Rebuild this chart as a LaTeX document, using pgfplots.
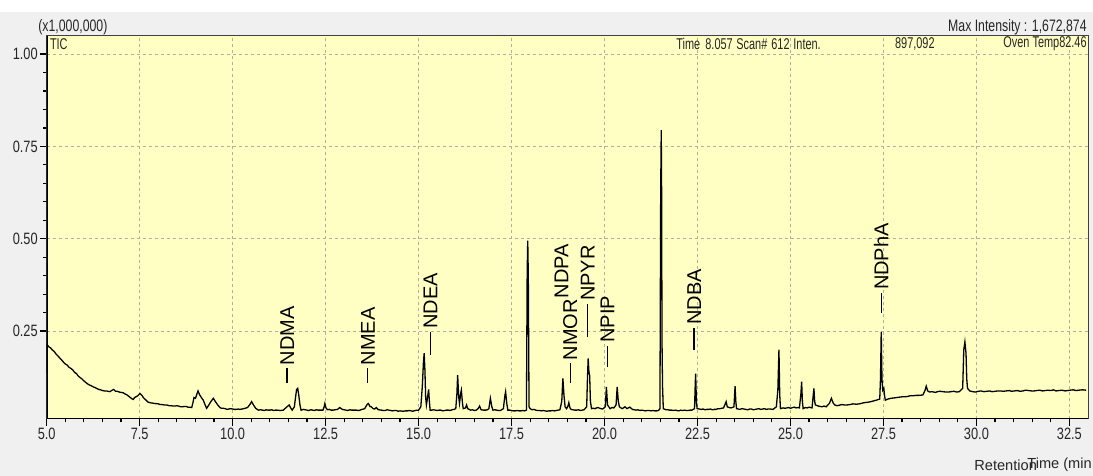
\documentclass[border=0pt]{standalone}
\usepackage{pgfplots}
\pgfplotsset{compat=1.18}
\usepackage{fontspec}
\setmainfont{Liberation Sans}
\newfontfamily\narrow{Liberation Sans}[FakeStretch=0.78]
\newfontfamily\narrowb{Liberation Sans}[FakeStretch=0.74]
\newfontfamily\narrowc{Liberation Sans}[FakeStretch=0.70]
\definecolor{bggray}{HTML}{F0F0F0}
\definecolor{plotbg}{HTML}{FFFFC4}
\definecolor{gridc}{HTML}{B0B0A0}
\newcommand{\pk}[4]{\node[rotate=90,anchor=west,inner sep=0pt,font=\fontsize{10}{12}\selectfont] at (axis cs:#1,#2) {\rule[3.2pt]{#3}{0.65pt}\hspace{1.5pt}#4};}
\begin{document}
\begin{tikzpicture}
\fill[bggray] (0,0) rectangle (546.5pt,238pt);
\fill[white] (0,232pt) rectangle (546.5pt,238pt);
\begin{axis}[
  at={(23.35pt,28.5pt)}, anchor=south west,
  scale only axis, width=520.65pt, height=191.5pt,
  xmin=5, xmax=33, ymin=0.012, ymax=1.049,
  axis background/.style={fill=plotbg},
  xtick={5,7.5,10,12.5,15,17.5,20,22.5,25,27.5,30,32.5},
  minor x tick num=4,
  ytick={0.25,0.5,0.75,1}, minor y tick num=4,
  xtick pos=left, ytick pos=left,
  grid=major,
  major grid style={gridc, dash pattern=on 1.5pt off 1.5pt, line width=0.5pt},
  tick align=outside, major tick length=3.3pt, minor tick length=1.7pt,
  tick style={black, line width=0.6pt},
  axis line style={draw=black!75, line width=0.5pt},
  /pgf/number format/assume math mode=true,
  xticklabel={\pgfmathprintnumber[fixed,fixed zerofill,precision=1]{\tick}},
  yticklabel={\pgfmathprintnumber[fixed,fixed zerofill,precision=2]{\tick}},
  tick label style={font=\narrow\fontsize{8.2}{9}\selectfont, text=black!85},
  xticklabel style={inner sep=1pt},
  yticklabel style={inner sep=1pt},
  clip=true,
]
\addplot[black, line width=0.65pt, sharp plot] coordinates {
(5.000,0.136)(5.003,0.217)(5.006,0.140)(5.010,0.212)(5.02,0.212)(5.06,0.207)(5.10,0.205)(5.15,0.199)(5.20,0.195)(5.25,0.188)(5.30,0.183)(5.36,0.176)(5.40,0.172)(5.45,0.166)
(5.50,0.161)(5.55,0.158)(5.60,0.152)(5.65,0.149)(5.71,0.144)(5.75,0.138)(5.80,0.135)(5.85,0.128)(5.90,0.124)(5.94,0.121)(5.98,0.117)(6.05,0.111)(6.10,0.107)(6.15,0.104)(6.20,0.102)(6.25,0.099)(6.30,0.097)(6.34,0.095)
(6.40,0.092)(6.45,0.091)(6.50,0.089)(6.55,0.088)(6.60,0.088)(6.65,0.087)(6.70,0.086)(6.76,0.090)(6.80,0.092)(6.85,0.087)(6.90,0.087)(6.95,0.085)(7.00,0.084)(7.06,0.083)(7.10,0.080)(7.15,0.078)
(7.20,0.074)(7.25,0.070)(7.30,0.066)(7.33,0.065)(7.36,0.070)(7.40,0.072)(7.45,0.075)(7.51,0.081)(7.56,0.076)(7.60,0.070)(7.65,0.065)(7.72,0.058)(7.78,0.056)(7.85,0.055)(7.90,0.054)
(8.00,0.053)(8.05,0.051)(8.10,0.051)(8.17,0.050)(8.23,0.050)(8.30,0.048)(8.35,0.048)(8.40,0.047)(8.45,0.047)(8.50,0.048)(8.55,0.047)(8.60,0.045)(8.65,0.045)(8.70,0.046)(8.75,0.046)(8.80,0.044)(8.85,0.044)(8.90,0.043)
(8.93,0.055)(8.96,0.070)(9.00,0.068)(9.04,0.080)(9.07,0.088)(9.11,0.078)(9.16,0.070)(9.21,0.063)(9.26,0.050)(9.30,0.041)
(9.36,0.050)(9.42,0.060)(9.48,0.068)(9.53,0.060)(9.60,0.050)(9.66,0.043)(9.70,0.041)(9.75,0.041)(9.80,0.040)(9.85,0.038)(9.90,0.039)(9.95,0.040)(10.00,0.039)
(10.05,0.038)(10.10,0.038)(10.15,0.039)(10.19,0.038)(10.25,0.039)(10.30,0.040)(10.40,0.043)(10.47,0.052)(10.51,0.059)(10.56,0.050)(10.62,0.041)(10.69,0.036)(10.75,0.037)(10.80,0.036)
(10.85,0.035)(10.90,0.037)(10.95,0.036)(11.00,0.036)(11.05,0.037)(11.10,0.035)(11.15,0.036)(11.20,0.036)(11.28,0.035)(11.36,0.036)(11.45,0.044)(11.52,0.050)(11.56,0.042)(11.60,0.036)(11.66,0.045)
(11.69,0.070)(11.72,0.092)(11.75,0.095)(11.78,0.075)(11.81,0.050)(11.84,0.036)(11.90,0.038)(11.95,0.037)(12.00,0.036)(12.05,0.035)(12.10,0.037)(12.15,0.036)(12.20,0.035)(12.25,0.037)(12.30,0.036)
(12.35,0.036)(12.43,0.036)(12.46,0.045)(12.48,0.054)(12.51,0.042)(12.55,0.037)(12.60,0.038)(12.65,0.036)(12.70,0.036)(12.75,0.037)(12.82,0.038)(12.88,0.043)(12.95,0.038)(13.00,0.037)
(13.05,0.036)(13.10,0.035)(13.15,0.037)(13.20,0.036)(13.25,0.036)(13.33,0.036)(13.40,0.035)(13.45,0.037)(13.55,0.040)(13.62,0.052)(13.65,0.054)(13.69,0.046)(13.73,0.045)
(13.78,0.040)(13.82,0.039)(13.86,0.043)(13.92,0.037)(14.00,0.036)(14.05,0.035)(14.10,0.035)(14.15,0.037)(14.20,0.036)(14.25,0.035)(14.30,0.034)(14.35,0.035)(14.40,0.035)(14.45,0.033)(14.50,0.034)(14.58,0.033)
(14.65,0.034)(14.70,0.034)(14.75,0.035)(14.80,0.034)(14.85,0.033)(14.90,0.035)(15.00,0.036)(15.06,0.045)(15.10,0.100)(15.13,0.165)(15.15,0.190)(15.17,0.145)(15.19,0.070)
(15.21,0.050)(15.24,0.070)(15.27,0.092)(15.29,0.060)(15.31,0.036)(15.35,0.036)(15.40,0.037)(15.45,0.036)(15.50,0.035)(15.55,0.036)(15.60,0.036)(15.65,0.034)(15.70,0.035)(15.75,0.036)(15.80,0.036)
(15.85,0.035)(15.90,0.037)(15.95,0.038)(16.00,0.040)(16.03,0.080)(16.05,0.131)(16.08,0.070)(16.10,0.054)(16.13,0.080)(16.15,0.090)(16.18,0.055)(16.20,0.040)
(16.26,0.042)(16.29,0.050)(16.32,0.040)(16.40,0.036)(16.45,0.037)(16.50,0.035)(16.55,0.036)(16.60,0.040)(16.64,0.047)(16.68,0.037)(16.75,0.036)(16.80,0.036)(16.85,0.037)(16.89,0.040)
(16.93,0.068)(16.97,0.045)(17.00,0.036)(17.05,0.037)(17.10,0.036)(17.15,0.035)(17.20,0.035)(17.28,0.040)(17.32,0.075)(17.34,0.086)(17.37,0.055)(17.40,0.036)
(17.45,0.036)(17.50,0.035)(17.55,0.034)(17.60,0.034)(17.65,0.035)(17.70,0.034)(17.75,0.034)(17.80,0.035)(17.85,0.034)(17.90,0.036)(17.92,0.410)(17.935,0.495)(17.95,0.400)(17.97,0.045)(18.00,0.040)
(18.05,0.037)(18.10,0.038)(18.15,0.036)(18.20,0.035)(18.25,0.035)(18.30,0.034)(18.35,0.035)(18.40,0.034)(18.45,0.033)(18.50,0.034)(18.55,0.034)(18.60,0.035)(18.65,0.034)(18.70,0.035)(18.75,0.036)(18.80,0.037)(18.85,0.060)
(18.88,0.122)(18.91,0.075)(18.94,0.045)(18.98,0.040)(19.02,0.048)(19.04,0.056)(19.07,0.042)(19.10,0.038)(19.15,0.037)(19.20,0.036)(19.25,0.036)(19.30,0.037)(19.35,0.035)(19.40,0.036)
(19.45,0.037)(19.52,0.045)(19.54,0.120)(19.56,0.176)(19.58,0.140)(19.60,0.130)(19.62,0.060)(19.65,0.040)(19.70,0.041)(19.75,0.040)(19.80,0.043)(19.85,0.042)(19.90,0.040)
(19.95,0.039)(20.02,0.045)(20.05,0.099)(20.08,0.050)(20.15,0.040)(20.20,0.043)(20.25,0.042)(20.31,0.050)(20.34,0.099)(20.37,0.060)(20.40,0.045)
(20.44,0.042)(20.48,0.040)(20.55,0.045)(20.60,0.040)(20.68,0.044)(20.75,0.038)(20.80,0.037)(20.85,0.036)(20.90,0.037)(20.95,0.035)(21.00,0.036)(21.05,0.035)(21.10,0.034)(21.15,0.035)(21.20,0.035)(21.25,0.034)
(21.30,0.035)(21.35,0.034)(21.40,0.034)(21.45,0.035)(21.49,0.040)(21.51,0.630)(21.525,0.794)(21.535,0.630)(21.545,0.226)(21.56,0.100)(21.58,0.040)(21.65,0.037)
(21.70,0.037)(21.75,0.036)(21.80,0.036)(21.85,0.035)(21.90,0.036)(21.95,0.035)(22.00,0.034)(22.05,0.036)(22.10,0.035)(22.15,0.036)(22.20,0.035)(22.25,0.035)(22.30,0.036)(22.35,0.036)(22.42,0.040)(22.44,0.110)(22.45,0.135)
(22.47,0.060)(22.49,0.040)(22.55,0.039)(22.60,0.038)(22.65,0.039)(22.70,0.037)(22.75,0.038)(22.80,0.038)(22.85,0.039)(22.90,0.037)(22.95,0.038)(23.00,0.038)(23.05,0.040)(23.10,0.040)(23.15,0.041)(23.20,0.042)(23.27,0.059)
(23.30,0.045)(23.35,0.043)(23.40,0.042)(23.48,0.045)(23.51,0.101)(23.53,0.060)(23.55,0.040)(23.60,0.039)(23.63,0.038)(23.70,0.040)(23.75,0.039)(23.80,0.038)(23.85,0.037)(23.90,0.039)(23.95,0.039)
(24.00,0.037)(24.05,0.038)(24.10,0.039)(24.15,0.040)(24.20,0.038)(24.25,0.039)(24.30,0.040)(24.35,0.038)(24.40,0.039)(24.45,0.039)(24.53,0.038)(24.62,0.045)(24.66,0.090)(24.69,0.200)(24.71,0.080)
(24.73,0.040)(24.80,0.042)(24.85,0.041)(24.90,0.042)(24.95,0.043)(25.00,0.041)(25.06,0.043)(25.10,0.044)(25.15,0.042)(25.20,0.043)(25.24,0.042)(25.28,0.080)(25.30,0.113)(25.32,0.060)(25.34,0.040)
(25.40,0.043)(25.45,0.042)(25.50,0.044)(25.58,0.042)(25.61,0.075)(25.63,0.095)(25.65,0.060)(25.67,0.050)(25.75,0.047)(25.80,0.046)(25.85,0.045)(25.90,0.047)(25.96,0.045)(26.05,0.055)
(26.10,0.068)(26.15,0.055)(26.19,0.050)(26.25,0.048)(26.30,0.049)(26.38,0.051)(26.45,0.050)(26.52,0.050)(26.60,0.051)(26.68,0.053)(26.77,0.052)(26.85,0.053)(26.90,0.054)(26.97,0.056)(27.05,0.057)(27.12,0.058)(27.20,0.060)
(27.31,0.063)(27.40,0.066)(27.42,0.120)(27.44,0.248)(27.46,0.120)(27.48,0.090)(27.51,0.095)(27.53,0.075)(27.55,0.063)(27.62,0.066)
(27.70,0.068)(27.78,0.069)(27.85,0.070)(27.92,0.071)(28.00,0.072)(28.08,0.072)(28.15,0.073)(28.22,0.075)(28.30,0.075)(28.38,0.076)(28.45,0.076)(28.56,0.077)(28.62,0.090)(28.65,0.101)(28.69,0.088)
(28.74,0.085)(28.80,0.086)(28.85,0.085)(28.90,0.084)(28.95,0.086)(29.02,0.087)(29.10,0.086)(29.18,0.085)(29.25,0.085)(29.32,0.086)(29.40,0.087)(29.47,0.085)(29.54,0.086)(29.63,0.095)(29.66,0.200)(29.69,0.221)
(29.72,0.190)(29.74,0.120)(29.76,0.095)(29.82,0.088)(29.90,0.086)(29.97,0.085)(30.05,0.087)(30.12,0.088)(30.20,0.086)(30.28,0.087)(30.35,0.088)(30.42,0.086)(30.50,0.087)(30.58,0.088)(30.65,0.088)
(30.72,0.087)(30.80,0.088)(30.88,0.089)(30.95,0.087)(31.02,0.088)(31.10,0.089)(31.18,0.087)(31.25,0.088)(31.32,0.090)(31.40,0.089)(31.48,0.088)(31.55,0.088)(31.62,0.089)(31.70,0.090)(31.78,0.088)(31.85,0.089)(31.92,0.090)(32.00,0.089)(32.07,0.091)(32.14,0.088)
(32.22,0.089)(32.30,0.090)(32.38,0.088)(32.45,0.089)(32.52,0.090)(32.60,0.091)(32.68,0.089)(32.75,0.090)(32.85,0.091)(32.95,0.090)
};
\pk{11.47}{0.108}{7.5pt}{NDMA}
\pk{13.64}{0.108}{7.5pt}{NMEA}
\pk{15.32}{0.185}{11.5pt}{NDEA}
\pk{18.84}{0.330}{0pt}{NDPA}
\pk{19.08}{0.108}{10pt}{NMOR}
\pk{19.55}{0.233}{16.5pt}{NPYR}
\pk{20.08}{0.153}{10.5pt}{NPIP}
\pk{22.41}{0.199}{11pt}{NDBA}
\pk{27.44}{0.298}{10pt}{NDPhA}
\draw[black, line width=1.1pt] (rel axis cs:0,1) -- (rel axis cs:0,0) -- (rel axis cs:1,0);
\end{axis}
\begin{scope}[every node/.style={inner sep=0pt, font=\narrowb\fontsize{8.3}{9}\selectfont, text=black!85}]
\node[anchor=west] at (19pt,224.25pt) {(x1,000,000)};
\node[anchor=east] at (543.5pt,224.25pt) {Max Intensity : 1,672,874};
\end{scope}
\begin{scope}[every node/.style={inner sep=0pt, font=\narrowc\fontsize{7.8}{9}\selectfont, text=black!85}]
\node[anchor=west] at (24.8pt,216pt) {TIC};
\node[anchor=west] at (338pt,216pt) {Time};
\node[anchor=west] at (352.5pt,216pt) {8.057};
\node[anchor=west] at (368pt,216pt) {Scan\#};
\node[anchor=west] at (385.5pt,216pt) {612};
\node[anchor=west] at (396.5pt,216pt) {Inten.};
\node[anchor=east] at (467.5pt,216pt) {897,092};
\node[anchor=east] at (543.5pt,216pt) {Oven Temp82.46};
\end{scope}
\begin{scope}[every node/.style={inner sep=0pt, font=\fontsize{7.3}{9}\selectfont, text=black!85}]
\node[anchor=west] at (487pt,5.5pt) {Retention};
\node[anchor=west] at (513.5pt,5.5pt) {Time (min};
\end{scope}
\pgfresetboundingbox
\useasboundingbox (0,0) rectangle (546.5pt,238pt);
\end{tikzpicture}
\end{document}
